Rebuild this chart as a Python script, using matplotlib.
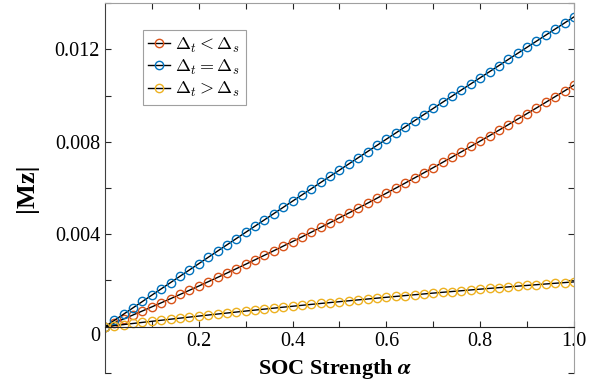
import matplotlib
matplotlib.use("Agg")
import matplotlib.pyplot as plt
import matplotlib.transforms as mtransforms
from matplotlib.ticker import FixedLocator

plt.rcParams['font.family'] = ['Liberation Serif', 'DejaVu Serif']
plt.rcParams['mathtext.fontset'] = 'cm'

alpha = [0.00, 0.02, 0.04, 0.06, 0.08, 0.10, 0.12, 0.14, 0.16, 0.18,
         0.20, 0.22, 0.24, 0.26, 0.28, 0.30, 0.32, 0.34, 0.36, 0.38,
         0.40, 0.42, 0.44, 0.46, 0.48, 0.50, 0.52, 0.54, 0.56, 0.58,
         0.60, 0.62, 0.64, 0.66, 0.68, 0.70, 0.72, 0.74, 0.76, 0.78,
         0.80, 0.82, 0.84, 0.86, 0.88, 0.90, 0.92, 0.94, 0.96, 0.98, 1.00]

# |Mz| for Delta_t < Delta_s
mz_less = [0, 0.000169, 0.000339, 0.000511, 0.000684, 0.000860, 0.001036, 0.001215,
           0.001395, 0.001577, 0.001760, 0.001946, 0.002132, 0.002321, 0.002511,
           0.002702, 0.002896, 0.003091, 0.003287, 0.003486, 0.003686, 0.003887,
           0.004090, 0.004295, 0.004502, 0.004710, 0.004920, 0.005131, 0.005344,
           0.005559, 0.005776, 0.005994, 0.006213, 0.006435, 0.006658, 0.006882,
           0.007109, 0.007337, 0.007566, 0.007798, 0.008030, 0.008265, 0.008501,
           0.008739, 0.008979, 0.009220, 0.009462, 0.009707, 0.009953, 0.010201, 0.01045]

# |Mz| for Delta_t = Delta_s
mz_equal = [0, 0.000274, 0.000548, 0.000821, 0.001094, 0.001367, 0.001640, 0.001912,
            0.002184, 0.002456, 0.002728, 0.003000, 0.003271, 0.003542, 0.003813,
            0.004083, 0.004353, 0.004623, 0.004893, 0.005163, 0.005432, 0.005701,
            0.005970, 0.006239, 0.006507, 0.006775, 0.007043, 0.007311, 0.007578,
            0.007845, 0.008112, 0.008379, 0.008645, 0.008911, 0.009177, 0.009443,
            0.009709, 0.009974, 0.010239, 0.010504, 0.010768, 0.011032, 0.011296,
            0.011560, 0.011824, 0.012087, 0.012350, 0.012613, 0.012876, 0.013138, 0.0134]

# |Mz| for Delta_t > Delta_s
mz_greater = [0, 0.000048, 0.000095, 0.000142, 0.000189, 0.000235, 0.000281, 0.000327,
              0.000372, 0.000417, 0.000462, 0.000506, 0.000550, 0.000593, 0.000636,
              0.000679, 0.000721, 0.000763, 0.000804, 0.000846, 0.000886, 0.000927,
              0.000967, 0.001007, 0.001046, 0.001085, 0.001124, 0.001162, 0.001200,
              0.001237, 0.001274, 0.001311, 0.001348, 0.001384, 0.001419, 0.001455,
              0.001490, 0.001524, 0.001558, 0.001592, 0.001626, 0.001659, 0.001691,
              0.001724, 0.001756, 0.001787, 0.001819, 0.001850, 0.001880, 0.001910, 0.00194]

xticks = [0.1, 0.2, 0.3, 0.4, 0.5, 0.6, 0.7, 0.8, 0.9, 1.0]
xticklabels = ['', '0.2', '', '0.4', '', '0.6', '', '0.8', '', '1.0']
yticks = [-0.002, 0, 0.002, 0.004, 0.006, 0.008, 0.010, 0.012, 0.014]
yticklabels = ['', '0', '', '0.004', '', '0.008', '', '0.012', '']

fig = plt.figure(figsize=(6.04, 3.87), dpi=100)
ax = fig.add_axes([0.1738, 0.0362, 0.7765, 0.9560])

ax.plot(alpha, mz_less, '-o', color='k', lw=1.0, mfc='none', mec='#D95319',
        ms=6, mew=1.0, label=r'$\Delta_t<\Delta_s$')
ax.plot(alpha, mz_equal, '-o', color='k', lw=1.0, mfc='none', mec='#0072BD',
        ms=6, mew=1.0, label=r'$\Delta_t=\Delta_s$')
ax.plot(alpha, mz_greater, '-o', color='k', lw=1.0, mfc='none', mec='#EDB120',
        ms=6, mew=1.0, label=r'$\Delta_t>\Delta_s$')

ax.set_xlim(0, 1)
ax.set_ylim(-0.002, 0.014)

ax.spines['bottom'].set_position(('data', 0))
ax.spines['bottom'].set_color('#262626')
ax.spines['left'].set_color('#404040')
ax.spines['top'].set_color('#a0a0a0')
ax.spines['right'].set_color('#a0a0a0')
for s in ax.spines.values():
    s.set_linewidth(0.8)

ax.xaxis.set_major_locator(FixedLocator(xticks))
ax.set_xticklabels(xticklabels)
ax.yaxis.set_major_locator(FixedLocator(yticks))
ax.set_yticklabels(yticklabels)
ax.tick_params(direction='in', top=True, right=True, length=4, width=0.8,
               labelsize=14.5, color='#262626')
ax.tick_params(axis='x', pad=4)

# the "0" label sits a little below the x axis line
zero_lbl = ax.get_yticklabels()[1]
zero_lbl.set_transform(zero_lbl.get_transform() +
                       mtransforms.ScaledTranslation(0, -7 / 100, fig.dpi_scale_trans))

ax.set_xlabel(r'SOC Strength $\boldsymbol{\alpha}$', fontsize=16, fontweight='bold')
ax.xaxis.set_label_coords(0.49, 0.042)
ax.set_ylabel('|Mz|', fontsize=19, fontweight='bold')
ax.yaxis.set_label_coords(-0.142, 0.5)

leg = ax.legend(loc='upper left', bbox_to_anchor=(0.081, 0.927), fontsize=13,
                frameon=True, fancybox=False, edgecolor='#888888',
                handlelength=1.2, handletextpad=0.3, labelspacing=0.18,
                borderpad=0.3, borderaxespad=0)
leg.get_frame().set_linewidth(0.8)

fig.savefig('out.png', dpi=100)
